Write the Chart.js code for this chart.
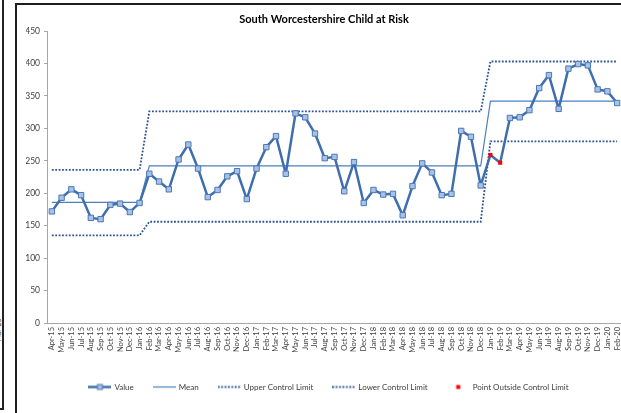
<!DOCTYPE html>
<html>
<head>
<meta charset="utf-8">
<script src="https://cdn.jsdelivr.net/npm/chart.js@4.4.1/dist/chart.umd.min.js"></script>
<style>
  html, body { margin: 0; padding: 0; background: #fff; overflow: hidden; width: 621px; height: 413px; }
  #side { position: absolute; left: -20px; top: -2px; width: 20px; height: 408px; border: 2px solid #222; }
  #sideText { position: absolute; left: -14px; top: 326px; font: 7px Lato, sans-serif; color: #404040; transform: rotate(-90deg); white-space: nowrap; }
  #frame { position: absolute; left: 15px; top: 3px; width: 640px; height: 440px; border: 2px solid #1e1e1e; }
  #chart { position: absolute; left: 0; top: 0; }
</style>
</head>
<body>
<div id="side"></div>
<div id="sideText">Mar-20</div>
<div id="frame"><canvas id="chart" width="614" height="420"></canvas></div>
<script>
const months = ['Apr-15','May-15','Jun-15','Jul-15','Aug-15','Sep-15','Oct-15','Nov-15','Dec-15',
  'Jan-16','Feb-16','Mar-16','Apr-16','May-16','Jun-16','Jul-16','Aug-16','Sep-16','Oct-16','Nov-16','Dec-16',
  'Jan-17','Feb-17','Mar-17','Apr-17','May-17','Jun-17','Jul-17','Aug-17','Sep-17','Oct-17','Nov-17','Dec-17',
  'Jan-18','Feb-18','Mar-18','Apr-18','May-18','Jun-18','Jul-18','Aug-18','Sep-18','Oct-18','Nov-18','Dec-18',
  'Jan-19','Feb-19','Mar-19','Apr-19','May-19','Jun-19','Jul-19','Aug-19','Sep-19','Oct-19','Nov-19','Dec-19',
  'Jan-20','Feb-20'];

const values = [172,193,206,197,162,160,182,184,171,
  185,230,218,206,252,275,238,194,205,226,234,191,
  238,271,288,230,323,317,292,254,256,203,248,185,
  205,198,199,166,211,246,232,197,199,296,287,212,
  259,247,316,317,328,362,382,330,392,399,397,360,
  357,339];

const mean = [186,186,186,186,186,186,186,186,186,
  186,242,242,242,242,242,242,242,242,242,242,242,
  242,242,242,242,242,242,242,242,242,242,242,242,
  242,242,242,242,242,242,242,242,242,242,242,242,
  342,342,342,342,342,342,342,342,342,342,342,342,
  342,342];

const upperLimit = [236,236,236,236,236,236,236,236,236,
  236,326,326,326,326,326,326,326,326,326,326,326,
  326,326,326,326,326,326,326,326,326,326,326,326,
  326,326,326,326,326,326,326,326,326,326,326,326,
  403,403,403,403,403,403,403,403,403,403,403,403,
  403,403];

const lowerLimit = [135,135,135,135,135,135,135,135,135,
  135,156,156,156,156,156,156,156,156,156,156,156,
  156,156,156,156,156,156,156,156,156,156,156,156,
  156,156,156,156,156,156,156,156,156,156,156,156,
  280,280,280,280,280,280,280,280,280,280,280,280,
  280,280];

const outside = [null,null,null,null,null,null,null,null,null,
  null,null,null,null,null,null,null,null,null,null,null,null,
  null,null,null,null,null,null,null,null,null,null,null,null,
  null,null,null,null,null,null,null,null,null,null,null,null,
  259,247,null,null,null,null,null,null,null,null,null,null,
  null,null];

const yTicks = { min: 0, max: 450, step: 50 };

const LINE = '#3f6ead';
const MARKER_FILL = '#a9c1e4';
const MARKER_EDGE = '#4a78b6';
const MEAN = '#4a7fc0';
const LIMIT = '#2c5393';
const RED = '#ff0000';

// small canvases used as legend symbols
function icon(draw) {
  const c = document.createElement('canvas');
  c.width = 23; c.height = 9;
  draw(c.getContext('2d'));
  return c;
}
const valueIcon = icon(g => {
  g.strokeStyle = LINE; g.lineWidth = 2.5;
  g.beginPath(); g.moveTo(0, 4.5); g.lineTo(23, 4.5); g.stroke();
  g.fillStyle = MARKER_FILL; g.fillRect(9, 2, 5, 5);
  g.strokeStyle = MARKER_EDGE; g.lineWidth = 1; g.strokeRect(9, 2, 5, 5);
});
const meanIcon = icon(g => {
  g.strokeStyle = MEAN; g.lineWidth = 1.2;
  g.beginPath(); g.moveTo(0, 4.5); g.lineTo(23, 4.5); g.stroke();
});
const limitIcon = icon(g => {
  g.strokeStyle = LIMIT; g.lineWidth = 1.8; g.setLineDash([1.8, 1.6]);
  g.beginPath(); g.moveTo(0, 4.5); g.lineTo(23, 4.5); g.stroke();
});
const redIcon = icon(g => {
  g.fillStyle = RED; g.fillRect(9.5, 2.5, 4, 4);
});
const legendIcons = [valueIcon, meanIcon, limitIcon, limitIcon, redIcon];

const shiftLegend = {
  id: 'shiftLegend',
  afterLayout(chart) {
    chart.legend.left += 5;
    chart.legend.right += 5;
  }
};

Chart.defaults.font.family = 'Lato';

new Chart(document.getElementById('chart'), {
  type: 'line',
  data: {
    labels: months,
    datasets: [
      {
        label: 'Value',
        data: values,
        borderColor: LINE,
        borderWidth: 2.5,
        borderJoinStyle: 'round',
        pointStyle: 'rect',
        pointRadius: c => outside[c.dataIndex] != null ? 0 : 3.8,
        pointBackgroundColor: MARKER_FILL,
        pointBorderColor: MARKER_EDGE,
        pointBorderWidth: 1,
        tension: 0
      },
      {
        label: 'Mean',
        data: mean,
        borderColor: MEAN,
        borderWidth: 1.2,
        pointRadius: 0,
        order: 1
      },
      {
        label: 'Upper Control Limit',
        data: upperLimit,
        borderColor: LIMIT,
        borderWidth: 1.8,
        borderDash: [1.8, 1.6],
        pointRadius: 0,
        order: 1
      },
      {
        label: 'Lower Control Limit',
        data: lowerLimit,
        borderColor: LIMIT,
        borderWidth: 1.8,
        borderDash: [1.8, 1.6],
        pointRadius: 0,
        order: 1
      },
      {
        label: 'Point Outside Control Limit',
        data: outside,
        showLine: false,
        pointStyle: 'rect',
        pointRadius: 2.9,
        pointBackgroundColor: RED,
        pointBorderWidth: 0,
        borderColor: RED,
        order: -1
      }
    ]
  },
  options: {
    responsive: false,
    animation: false,
    layout: { padding: { left: 9, right: 9, top: 0, bottom: 24 } },
    plugins: {
      tooltip: { enabled: false },
      title: {
        display: true,
        text: 'South Worcestershire Child at Risk',
        color: '#000',
        font: { size: 11, weight: 'bold' },
        padding: { top: 8.2, bottom: 4.6 }
      },
      legend: {
        position: 'bottom',
        labels: {
          usePointStyle: true,
          pointStyleWidth: 21,
          padding: 20,
          color: '#404040',
          font: { size: 8 },
          generateLabels: chart => chart.data.datasets.map((ds, i) => ({
            text: ds.label,
            pointStyle: legendIcons[i],
            fillStyle: 'transparent',
            strokeStyle: 'transparent',
            lineWidth: 0,
            fontColor: '#404040',
            hidden: false,
            datasetIndex: i
          }))
        }
      }
    },
    scales: {
      x: {
        offset: true,
        grid: { display: false, drawTicks: false },
        border: { display: true, color: '#a6a6a6', width: 1 },
        ticks: {
          autoSkip: false,
          minRotation: 90,
          maxRotation: 90,
          padding: 4,
          color: '#404040',
          font: { size: 7.5 }
        },
        afterFit: s => { s.height = 40; }
      },
      y: {
        min: yTicks.min,
        max: yTicks.max,
        grid: { display: true, drawOnChartArea: false, drawTicks: true, tickLength: 3, color: '#a6a6a6' },
        border: { display: true, color: '#a6a6a6', width: 1 },
        ticks: {
          stepSize: yTicks.step,
          padding: 4,
          color: '#404040',
          font: { size: 8.5 }
        },
        afterFit: s => { s.width = 21; }
      }
    }
  },
  plugins: [shiftLegend]
});
</script>
</body>
</html>
